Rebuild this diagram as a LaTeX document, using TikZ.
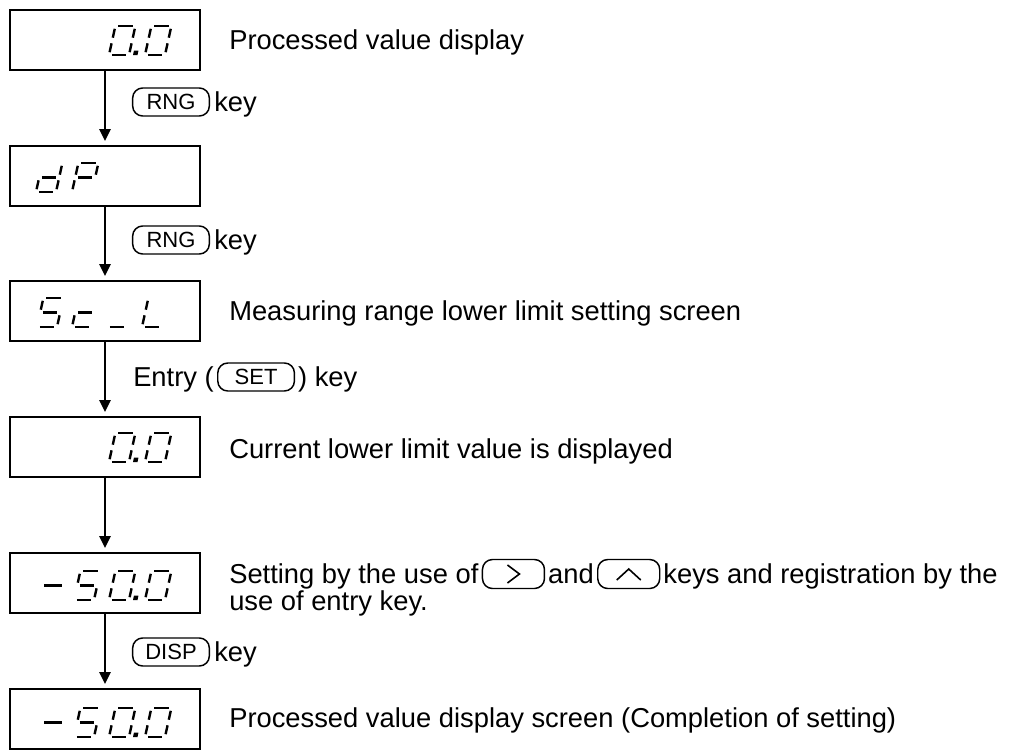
\documentclass[tikz,border=0pt]{standalone}
\usepackage{fontspec}
\setmainfont{Liberation Sans}
\newfontfamily\keyfam{Liberation Sans}
\usetikzlibrary{arrows.meta}
\newcommand\keyfont{\keyfam\fontsize{16.5}{19}\selectfont}
\newcommand\lblfont{\fontsize{20.5}{24}\selectfont}
\tikzset{
 dispbox/.style={draw, line width=1.5pt, minimum width=142.5pt, minimum height=45pt, inner sep=0pt},
 keybox/.style={draw, line width=1.1pt, rounded corners=7.5pt, minimum width=57.5pt, minimum height=21pt, inner sep=0pt, font=\keyfont},
 arrkey/.style={keybox, anchor=west, minimum width=46.5pt, minimum height=21.75pt},
 lbl/.style={anchor=base west, inner sep=0pt, font=\lblfont},
 flow/.style={line width=1.5pt, -{Triangle[length=9pt,width=8.5pt]}, shorten >=3pt},
 segline/.style={line width=1.8pt},
 chev/.style={line width=1.2pt},
}
% seven-segment pieces (local px units, x right, y up; W=20, H=29)
\newcommand\segA{\draw[segline] (2.8,29) -- (17.2,29);}
\newcommand\segB{\draw[segline] (20,17.3) -- (20,26.2);}
\newcommand\segC{\draw[segline] (20,2.8) -- (20,11.7);}
\newcommand\segD{\draw[segline] (2.8,0) -- (17.2,0);}
\newcommand\segE{\draw[segline] (0,2.8) -- (0,11.7);}
\newcommand\segF{\draw[segline] (0,17.3) -- (0,26.2);}
\newcommand\segG{\draw[segline] (2.8,14.5) -- (17.2,14.5);}
\newcommand\segM{\draw[segline] (0,14.5) -- (17.5,14.5);}
\newcommand\segP{\fill (24,0) rectangle (28.5,4.5);}
\newcommand\sevdigit[3]{\begin{scope}[shift={(#1,#2)},x=0.75pt,y=0.75pt,xslant=0.22]\foreach \s in {#3}{\csname seg\s\endcsname}\end{scope}}
\begin{document}
\begin{tikzpicture}[x=0.75pt,y=-0.75pt]
\useasboundingbox (0,0) rectangle (1018,750);
% display boxes
\node[dispbox] (b1) at (105,40) {};
\node[dispbox] (b2) at (105,176) {};
\node[dispbox] (b3) at (105,311) {};
\node[dispbox] (b4) at (105,447) {};
\node[dispbox] (b5) at (105,583) {};
\node[dispbox] (b6) at (105,719) {};
% display contents
\sevdigit{109}{55}{A,B,C,D,E,F,P}
\sevdigit{145}{55}{A,B,C,D,E,F}
\sevdigit{36}{192}{B,C,D,E,G}
\sevdigit{72}{192}{A,B,E,F,G}
\sevdigit{37}{327}{A,F,G,C,D}
\sevdigit{72}{327}{G,E,D}
\sevdigit{107}{327}{D}
\sevdigit{142}{327}{F,E,D}
\sevdigit{109}{462}{A,B,C,D,E,F,P}
\sevdigit{145}{462}{A,B,C,D,E,F}
\sevdigit{41}{600}{M}
\sevdigit{74}{600}{A,F,G,C,D}
\sevdigit{109}{600}{A,B,C,D,E,F,P}
\sevdigit{145}{600}{A,B,C,D,E,F}
\sevdigit{41}{737}{M}
\sevdigit{74}{737}{A,F,G,C,D}
\sevdigit{109}{737}{A,B,C,D,E,F,P}
\sevdigit{145}{737}{A,B,C,D,E,F}
% connectors
\draw[flow] (b1.south) -- (b2.north);
\draw[flow] (b2.south) -- (b3.north);
\draw[flow] (b3.south) -- (b4.north);
\draw[flow] (b4.south) -- (b5.north);
\draw[flow] (b5.south) -- (b6.north);
% labels
\node[lbl] (t1) at (229,49) {Processed value display};
\node[keybox] (k1) at (171,102) {RNG};
\node[lbl] (k1t) at (214,111) {key};
\node[keybox] (k2) at (171,240) {RNG};
\node[lbl] (k2t) at (214,249) {key};
\node[lbl] (t3) at (229,320) {Measuring range lower limit setting screen};
\node[lbl] (e1) at (133,386) {Entry (};
\node[keybox, anchor=west] (kset) at ([shift={(3,-9)}]e1.base east) {SET};
\node[lbl, xshift=2pt] (e2) at (kset.east |- e1.base) {) key};
\node[lbl] (t4) at (229,458) {Current lower limit value is displayed};
\node[lbl] (s1) at (229,583) {Setting by the use of};
\node[arrkey] (kr) at ([shift={(3,-9)}]s1.base east) {};
\draw[chev] ([shift={(-6,-9)}]kr.center) -- ([shift={(6,0)}]kr.center) -- ([shift={(-6,9)}]kr.center);
\node[lbl, xshift=2pt] (s2) at (kr.east |- s1.base) {and};
\node[arrkey] (ku) at ([shift={(3,-9)}]s2.base east) {};
\draw[chev] ([shift={(-12,6)}]ku.center) -- ([shift={(0,-5)}]ku.center) -- ([shift={(12,6)}]ku.center);
\node[lbl, xshift=2pt] (s3) at (ku.east |- s1.base) {keys and registration by the};
\node[lbl] (s4) at (229,610) {use of entry key.};
\node[keybox] (kd) at (171,652) {DISP};
\node[lbl] (kdt) at (214,661) {key};
\node[lbl] (t6) at (229,727) {Processed value display screen (Completion of setting)};
\end{tikzpicture}
\end{document}
